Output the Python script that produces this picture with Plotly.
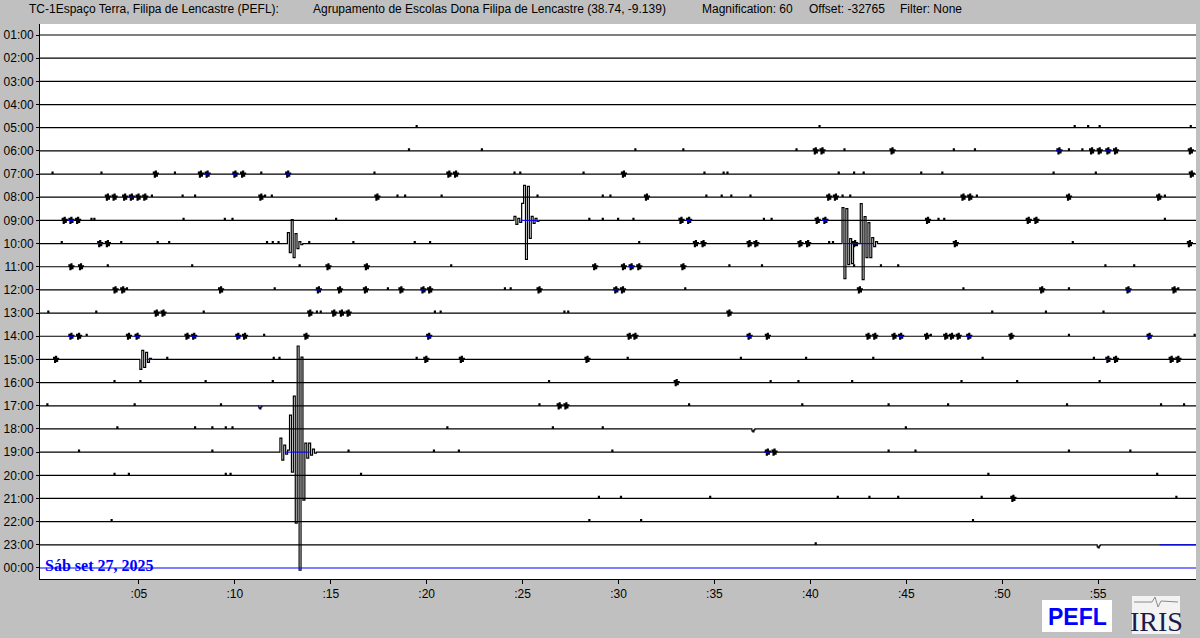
import plotly.graph_objects as go

# ---------------- data ----------------
HOUR_LABELS = ["01:00", "02:00", "03:00", "04:00", "05:00", "06:00", "07:00", "08:00",
               "09:00", "10:00", "11:00", "12:00", "13:00", "14:00", "15:00", "16:00",
               "17:00", "18:00", "19:00", "20:00", "21:00", "22:00", "23:00", "00:00"]
MINUTE_TICKS = [5, 10, 15, 20, 25, 30, 35, 40, 45, 50, 55]
MINUTE_LABELS = [":05", ":10", ":15", ":20", ":25", ":30", ":35", ":40", ":45", ":50", ":55"]

# small recurring signal shapes (amplitude in screen counts)
WIGGLE_SHAPES = {"d": [0, 2, 0], "w": [0, 2, -3, 3, -2, 1, 0], "v": [0, -2, -3, -1, 0]}

# per-row small signals: (minute, kind) ; kind ending with "b" has blue baseline
ROW_01 = []
ROW_02 = []
ROW_03 = []
ROW_04 = []
ROW_05 = [(19.4, "d"), (40.4, "d"), (53.7, "d"), (54.4, "d"), (55.0, "d"), (59.75, "d")]
ROW_06 = [(19.0, "d"), (22.8, "d"), (30.8, "d"), (33.3, "d"), (39.2, "d"), (40.1, "w"), (40.45, "w"),
          (41.7, "d"), (44.1, "w"), (47.4, "d"), (48.5, "d"), (52.8, "wb"), (53.4, "d"), (54.1, "d"),
          (54.5, "w"), (54.9, "w"), (55.35, "wb"), (55.75, "w"), (59.65, "w")]
ROW_07 = [(0.42, "d"), (2.97, "d"), (5.7, "w"), (6.8, "d"), (8.05, "w"), (8.4, "wb"), (9.85, "wb"),
          (10.25, "w"), (11.3, "d"), (12.6, "wb"), (17.2, "d"), (21.0, "w"), (21.35, "w"), (24.5, "d"),
          (24.8, "d"), (28.1, "d"), (30.1, "w"), (34.4, "d"), (35.4, "d"), (35.6, "d"), (41.4, "d"),
          (42.2, "d"), (42.7, "d"), (45.7, "d"), (46.8, "d"), (52.6, "d"), (54.8, "d"), (59.7, "w")]
ROW_08 = [(3.2, "w"), (3.55, "w"), (4.1, "w"), (4.45, "wb"), (4.8, "w"), (5.15, "w"), (5.6, "d"),
          (7.2, "d"), (7.85, "d"), (11.2, "w"), (11.5, "d"), (11.85, "d"), (17.25, "w"), (18.4, "d"),
          (18.8, "d"), (20.7, "d"), (25.7, "d"), (29.1, "d"), (29.5, "d"), (31.3, "w"), (34.5, "d"),
          (35.3, "d"), (35.8, "d"), (36.8, "d"), (40.8, "w"), (41.15, "w"), (41.6, "d"), (42.0, "d"),
          (47.8, "w"), (48.15, "w"), (48.6, "d"), (53.3, "w"), (58.0, "w"), (58.4, "d")]
ROW_09 = [(0.95, "w"), (1.3, "wb"), (1.65, "w"), (2.45, "d"), (2.6, "d"), (7.25, "d"), (9.4, "d"),
          (9.8, "d"), (15.2, "d"), (28.4, "d"), (29.1, "d"), (29.9, "d"), (30.7, "d"), (33.1, "w"),
          (33.5, "wb"), (37.5, "d"), (37.9, "d"), (40.2, "w"), (40.6, "wb"), (45.95, "w"), (46.6, "d"),
          (46.9, "d"), (51.2, "w"), (51.6, "w"), (58.4, "d")]
ROW_10 = [(0.9, "d"), (2.8, "wb"), (3.2, "w"), (4.0, "d"), (5.9, "d"), (6.5, "d"), (11.6, "d"),
          (11.9, "d"), (12.2, "d"), (13.8, "d"), (16.1, "d"), (19.3, "d"), (20.1, "d"), (31.0, "d"),
          (33.85, "w"), (34.25, "w"), (36.65, "w"), (37.0, "w"), (39.3, "w"), (39.7, "w"), (40.9, "d"),
          (41.1, "d"), (42.15, "wb"), (47.4, "w"), (53.6, "d"), (59.6, "w")]
ROW_11 = [(1.3, "w"), (1.8, "w"), (3.3, "d"), (7.7, "d"), (13.3, "d"), (14.7, "w"), (16.7, "w"),
          (21.2, "d"), (28.6, "w"), (30.1, "w"), (30.5, "wb"), (30.9, "w"), (33.2, "w"), (35.7, "d"),
          (37.4, "d"), (42.2, "d"), (43.6, "d"), (44.5, "d"), (55.3, "d"), (56.8, "d")]
ROW_12 = [(3.6, "w"), (4.0, "w"), (4.3, "d"), (9.1, "w"), (12.0, "d"), (14.2, "wb"), (15.3, "w"),
          (16.65, "w"), (17.9, "d"), (18.5, "w"), (19.65, "wb"), (20.0, "w"), (24.0, "d"), (24.3, "d"),
          (25.7, "w"), (29.7, "wb"), (30.05, "w"), (33.4, "d"), (42.4, "w"), (47.9, "d"), (51.9, "w"),
          (53.4, "d"), (56.4, "wb"), (58.8, "w"), (59.1, "d")]
ROW_13 = [(0.2, "d"), (2.7, "d"), (5.75, "w"), (6.1, "w"), (8.3, "d"), (13.75, "w"), (14.2, "d"),
          (14.4, "d"), (15.0, "w"), (15.4, "w"), (15.75, "w"), (20.35, "d"), (20.65, "d"), (27.1, "d"),
          (27.3, "d"), (35.6, "w"), (49.4, "d"), (52.2, "d"), (55.2, "d")]
ROW_14 = [(1.3, "wb"), (1.7, "w"), (2.2, "d"), (4.3, "w"), (4.75, "wb"), (7.35, "w"), (7.7, "wb"),
          (10.0, "wb"), (10.35, "w"), (11.45, "d"), (13.55, "w"), (19.95, "wb"), (30.4, "w"),
          (30.7, "w"), (36.65, "wb"), (37.6, "w"), (42.85, "w"), (43.2, "w"), (44.2, "w"),
          (44.55, "wb"), (45.9, "w"), (46.2, "d"), (46.9, "w"), (47.2, "w"), (47.55, "w"),
          (48.1, "wb"), (50.3, "w"), (53.4, "d"), (57.5, "wb"), (59.95, "d")]
ROW_15 = [(0.5, "w"), (6.4, "d"), (11.95, "d"), (12.25, "d"), (19.4, "d"), (19.8, "w"), (21.65, "w"),
          (28.2, "w"), (30.4, "d"), (36.3, "d"), (39.7, "d"), (43.2, "d"), (48.9, "d"), (54.7, "d"),
          (55.35, "wb"), (55.75, "w"), (58.65, "w"), (59.0, "w")]
ROW_16 = [(3.65, "d"), (5.0, "d"), (8.4, "d"), (11.9, "d"), (26.3, "d"), (32.85, "w"), (37.85, "d"),
          (39.3, "d"), (42.1, "d"), (47.8, "d"), (50.7, "d"), (55.0, "d")]
ROW_17 = [(0.15, "d"), (4.7, "d"), (9.2, "d"), (11.2, "vb"), (25.8, "d"), (26.75, "w"), (27.1, "w"),
          (33.6, "d"), (39.5, "d"), (44.0, "d"), (47.1, "d"), (53.3, "d"), (58.2, "d"), (59.4, "d")]
ROW_18 = [(3.8, "d"), (7.85, "d"), (8.75, "d"), (9.45, "d"), (9.8, "d"), (21.0, "d"), (26.5, "d"),
          (29.1, "d"), (36.9, "v"), (44.9, "d")]
ROW_19 = [(1.8, "d"), (8.75, "d"), (15.85, "d"), (20.3, "d"), (21.6, "d"), (29.6, "d"), (37.6, "wb"),
          (37.95, "w"), (44.0, "d"), (45.4, "d"), (53.4, "d"), (56.6, "d")]
ROW_20 = [(3.65, "d"), (4.4, "d"), (9.45, "d"), (9.7, "d"), (16.5, "d"), (49.2, "d"), (58.0, "d")]
ROW_21 = [(28.9, "d"), (30.05, "d"), (34.7, "d"), (41.35, "d"), (43.0, "d"), (44.5, "d"), (48.85, "d"),
          (50.4, "w"), (59.0, "d")]
ROW_22 = [(3.5, "d"), (28.4, "d"), (31.1, "d"), (48.4, "d")]
ROW_23 = [(40.2, "d"), (54.9, "v")]
ROW_24 = []
SAMPLE_DT = 0.052  # minutes per sample of the small signals

# larger recorded events (row, start minute, samples)
EVENT_ROW = [9, 10, 10, 10, 15, 19]
EVENT_START = [24.45, 12.64, 41.55, 42.5, 4.95, 12.25]
EVENT_0925 = [0, 4, -4, 2, -2, 17, 35, -39, 34, -18, 4, -3, 2, -1, 0]
EVENT_1013 = [0, 11, -9, 24, -14, 10, -5, 2, -1, 0]
EVENT_1042A = [0, 36, -35, 35, -21, 5, -20, 2, -2, 0]
EVENT_1042B = [0, 40, -36, 27, -14, 21, -14, 6, -3, 2, 0]
EVENT_1505 = [0, -10, 9, -8, 7, -3, 1, 0]
EVENT_1913 = [0, 14, -8, 7, -2, 2, 37, -20, 56, -71, 106, -118, 95, -48, 9, -6, 9, -3, 3, -1, 0]
EVENT_DT = 0.1  # minutes per sample of the events

# baseline stretches drawn in blue (row, from minute, to minute)
BLUE_SPAN_ROW = [9, 10, 15, 19, 23]
BLUE_SPAN_FROM = [24.9, 41.7, 5.4, 12.6, 58.2]
BLUE_SPAN_TO = [25.8, 43.3, 5.75, 13.9, 60.1]

DATE_LABEL = "Sáb set 27, 2025"
HEADER_STATION = "TC-1Espaço Terra, Filipa de Lencastre (PEFL):"
HEADER_SITE = "Agrupamento de Escolas Dona Filipa de Lencastre (38.74, -9.139)"
HEADER_MAG = "Magnification: 60"
HEADER_OFFSET = "Offset: -32765"
HEADER_FILTER = "Filter: None"

# ---------------- build ----------------
X_MIN, X_MAX = -0.156, 60.1
PX_PER_ROW = 23.15
ROWS = [ROW_01, ROW_02, ROW_03, ROW_04, ROW_05, ROW_06, ROW_07, ROW_08, ROW_09, ROW_10, ROW_11, ROW_12,
        ROW_13, ROW_14, ROW_15, ROW_16, ROW_17, ROW_18, ROW_19, ROW_20, ROW_21, ROW_22, ROW_23, ROW_24]
EVENTS = [EVENT_0925, EVENT_1013, EVENT_1042A, EVENT_1042B, EVENT_1505, EVENT_1913]

BLUE = "#0000FF"
LW = 1.2

fig = go.Figure()
blue_x, blue_y = [], []
for r, blips in enumerate(ROWS, start=1):
    segs = []
    for m, kind in blips:
        shape = WIGGLE_SHAPES[kind[0]]
        segs.append((m, shape, SAMPLE_DT))
        if kind.endswith("b"):
            blue_x += [m, m + (len(shape) - 1) * SAMPLE_DT, None]
            blue_y += [r, r, None]
    for er, es, ev in zip(EVENT_ROW, EVENT_START, EVENTS):
        if er == r:
            segs.append((es, ev, EVENT_DT))
    segs.sort(key=lambda s: s[0])
    xs, ys = [X_MIN], [r]
    for m0, shape, dt in segs:
        for i, a in enumerate(shape):
            xs.append(m0 + i * dt)
            ys.append(r - a / PX_PER_ROW)
    xs.append(X_MAX)
    ys.append(r)
    color = BLUE if r == 24 else "black"
    fig.add_trace(go.Scatter(x=xs, y=ys, mode="lines", line=dict(color=color, width=LW, shape="hv"),
                             hoverinfo="skip", showlegend=False))

for r, a, b in zip(BLUE_SPAN_ROW, BLUE_SPAN_FROM, BLUE_SPAN_TO):
    blue_x += [a, b, None]
    blue_y += [r, r, None]
fig.add_trace(go.Scatter(x=blue_x, y=blue_y, mode="lines", line=dict(color=BLUE, width=1.1),
                         hoverinfo="skip", showlegend=False))

# ---------------- layout ----------------
W, H = 1200, 638
L, R, T, B = 40, 4, 24, 59
PW, PH = W - L - R, H - T - B


def px(xp):
    return (xp - L) / PW


def py(yp):
    return (H - B - yp) / PH


FONT = "Arial, Liberation Sans, sans-serif"
ann = []
for txt, x0, anchor in [(HEADER_STATION, 27, "left"), (HEADER_SITE, 489, "center"),
                        (HEADER_MAG, 700, "left"), (HEADER_OFFSET, 807, "left"),
                        (HEADER_FILTER, 898, "left")]:
    ann.append(dict(text=txt, xref="paper", yref="paper", x=px(x0), y=py(9), xanchor=anchor,
                    yanchor="middle", showarrow=False, font=dict(family=FONT, size=12, color="black")))

ann.append(dict(text="<b>" + DATE_LABEL + "</b>", xref="x", yref="y", x=0, y=24, xanchor="left",
                yanchor="middle", yshift=2, showarrow=False,
                font=dict(family="Liberation Serif, Times New Roman, serif", size=16, color=BLUE)))

# logos
ann.append(dict(text="<b>PEFL</b>", xref="paper", yref="paper", x=px(1077), y=py(617), xanchor="center",
                yanchor="middle", showarrow=False, font=dict(family=FONT, size=23, color=BLUE)))
ann.append(dict(text="IRIS", xref="paper", yref="paper", x=px(1156), y=py(621), xanchor="center",
                yanchor="middle", showarrow=False,
                font=dict(family="Liberation Serif, Times New Roman, serif", size=28, color="#1B1B4B")))

shapes = [
    dict(type="rect", xref="paper", yref="paper", x0=px(1042), x1=px(1112), y0=py(600), y1=py(632),
         fillcolor="white", line=dict(width=0), layer="below"),
    dict(type="rect", xref="paper", yref="paper", x0=px(1132), x1=px(1180), y0=py(596), y1=py(634),
         fillcolor="#F3F3F3", line=dict(width=0), layer="below"),
    dict(type="path", xref="paper", yref="paper",
         path="M {} {} L {} {} L {} {} L {} {} L {} {} L {} {}".format(
             px(1134), py(602), px(1152), py(602), px(1155), py(597), px(1158), py(607),
             px(1161), py(601), px(1178), py(602)),
         line=dict(color="#8A8A8A", width=1)),
]

fig.update_layout(
    width=W, height=H, margin=dict(l=L, r=R, t=T, b=B, autoexpand=False),
    paper_bgcolor="#C0C0C0", plot_bgcolor="white",
    annotations=ann, shapes=shapes, showlegend=False,
    xaxis=dict(range=[X_MIN, X_MAX], tickvals=MINUTE_TICKS, ticktext=MINUTE_LABELS,
               showgrid=False, zeroline=False, showline=True, linecolor="black", linewidth=1,
               ticks="outside", ticklen=4, tickcolor="black",
               tickfont=dict(family=FONT, size=12, color="black"), fixedrange=True),
    yaxis=dict(range=[24.475, 0.525], tickvals=list(range(1, 25)), ticktext=HOUR_LABELS,
               showgrid=False, zeroline=False, showline=True, linecolor="black", linewidth=1,
               ticks="outside", ticklen=3, tickcolor="black",
               tickfont=dict(family=FONT, size=12, color="black"), fixedrange=True),
    hovermode=False,
)

fig.write_html("out.html", config={"displayModeBar": False},
               post_script="document.body.style.margin='0';document.body.style.overflow='hidden';")
